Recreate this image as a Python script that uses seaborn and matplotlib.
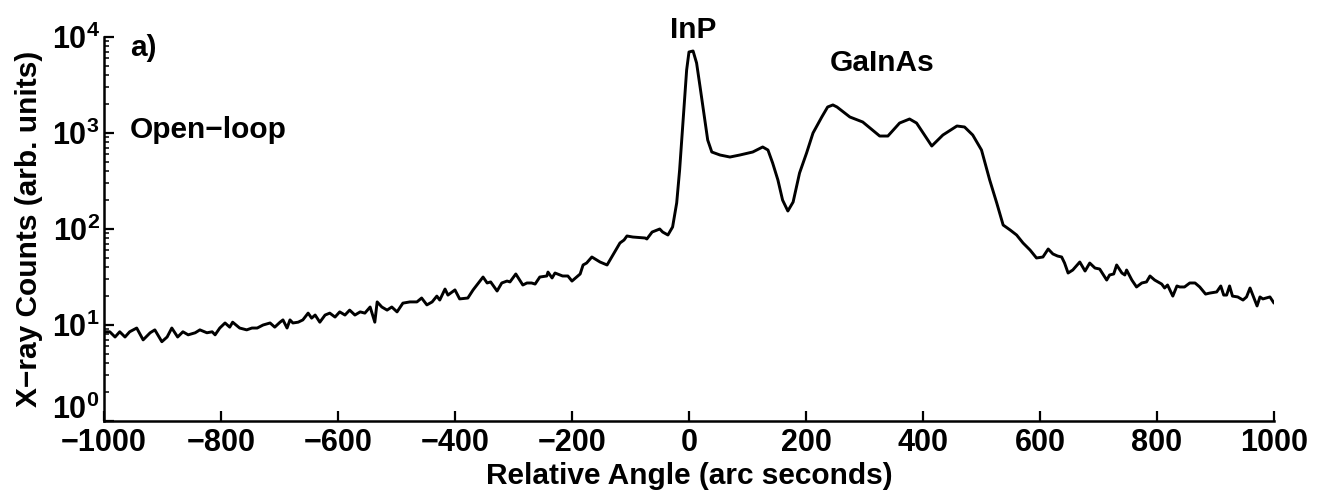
import matplotlib
matplotlib.use("Agg")
import matplotlib.pyplot as plt
import matplotlib.transforms as mtransforms
import seaborn as sns
import pandas as pd
from matplotlib.ticker import LogLocator, NullFormatter

# Relative angle (arc seconds)
angle = [
    -1000, -990, -981, -973, -964, -956, -944, -933, -921, -913, -901, -892, -884, -874, -865, -856,
    -844, -836, -824, -815, -810, -802, -793, -785, -780, -768, -756, -747, -738, -728,
    -716, -708, -699, -694, -687, -682, -677, -668, -660, -651, -645, -639, -631, -622, -614, -605,
    -597, -588, -580, -571, -562, -554, -545, -537, -533, -525, -516, -508, -499, -489, -477, -465,
    -457, -448, -439, -431, -426,
    -417, -412, -400, -392, -378, -369, -352, -345, -339, -328, -320, -311, -306, -296, -284, -277,
    -269, -263, -255, -243, -241, -234, -229, -216, -207, -200, -186, -181, -175, -166, -152, -140,
    -127, -118, -111, -106, -96, -75, -72, -63, -50, -45, -36, -28, -21, -16, -10, -4,
    0, 7, 13, 19, 27, 32, 39, 53, 70, 87, 109, 126, 135, 143, 152, 160, 169, 178, 189, 201,
    212, 227, 237, 246, 253, 275, 297, 326, 340, 360, 377, 389, 415, 434, 458, 471, 485, 500,
    514, 526, 537, 549, 560, 571, 583, 594, 605, 614, 622, 630, 637, 642, 648, 656, 668, 677,
    685, 694, 702, 714, 719, 726, 731, 740, 745, 748, 757, 765, 774, 782, 788, 796, 808, 813,
    818, 827, 834, 839, 847, 856, 865, 873, 883, 890, 902, 909, 914, 919, 924, 929, 938, 947,
    953, 959, 965, 971, 976, 981, 993, 1000,
]

# X-ray counts (arb. units)
counts = [
    8.5, 8.5, 7.5, 8.5, 7.5, 8.5, 9.3, 7.0, 8.3, 8.9, 6.7, 7.5, 9.3, 7.5, 8.5, 7.9,
    8.3, 8.9, 8.3, 8.5, 7.9, 9.3, 10.5, 9.5, 10.7, 9.3, 8.9, 9.3, 9.3, 10.0,
    10.5, 9.5, 10.7, 11.3, 9.3, 11.3, 10.5, 10.7, 11.3, 13.3, 11.8, 12.7, 10.7, 12.7, 13.3, 12.1,
    13.7, 12.7, 14.3, 12.7, 13.7, 13.3, 15.4, 10.7, 17.4, 15.4, 14.3, 15.4, 13.7, 16.9, 17.4, 17.4,
    19.1, 16.2, 17.4, 20.0, 18.2,
    23.7, 20.5, 23.2, 18.7, 19.1, 23.2, 31.6, 27.4, 28.1, 22.6, 27.4, 28.7, 28.1, 34.0, 26.1, 27.4,
    27.4, 26.7, 31.6, 32.4, 35.6, 30.9, 34.8, 32.4, 32.4, 28.7, 34.0, 42.2, 44.2, 51.1, 45.3, 42.2,
    57.6, 71.5, 76.8, 84.6, 82.5, 80.6, 78.7, 93.0, 100, 93, 86.6, 105, 187, 412, 1365, 4530,
    6980, 7150, 5360, 3015, 1365, 845, 634, 590, 562, 590, 634, 715, 665, 487, 324, 200, 154, 191, 383, 619,
    1000, 1468, 1866, 1960, 1866, 1468, 1302, 930, 930, 1270, 1399, 1270, 732, 953, 1183, 1155, 953, 665,
    324, 187, 110, 97.6, 86.6, 71.5, 60.4, 49.9, 51.1, 61.9, 55, 52.3, 51.1, 44.2, 34.8, 37.4, 45.3, 36.5,
    44.2, 39.2, 38.3, 29.4, 33.2, 34.0, 42.2, 34.8, 33.2, 37.4, 29.4, 24.9, 27.4, 28.1, 32.4, 29.4, 26.7, 24.3,
    26.1, 20.0, 25.5, 24.9, 24.9, 27.4, 27.4, 24.9, 21.0, 21.5, 22.1, 25.5, 20.5, 20.5, 25.5, 20.0, 19.6, 18.2,
    19.6, 24.3, 19.6, 15.8, 19.6, 18.7, 19.6, 16.9,
]

x_ticks = [-1000, -800, -600, -400, -200, 0, 200, 400, 600, 800, 1000]
annotations = ["a)", "Open\u2212loop", "InP", "GaInAs"]

sns.set_theme(style="ticks")
plt.rcParams["font.family"] = ["Liberation Sans", "DejaVu Sans"]
plt.rcParams["font.weight"] = "bold"
plt.rcParams["axes.labelweight"] = "bold"
plt.rcParams["mathtext.fontset"] = "custom"
plt.rcParams["mathtext.rm"] = "Liberation Sans:bold"
plt.rcParams["mathtext.it"] = "Liberation Sans:bold"
plt.rcParams["mathtext.bf"] = "Liberation Sans:bold"

FS_TICK = 22
FS_LABEL = 21.5
FS_ANN = 21.5

df = pd.DataFrame({"angle": angle, "counts": counts})

fig = plt.figure(figsize=(13.19, 4.98), dpi=100)
ax = fig.add_axes([0.0788, 0.1546, 0.8871, 0.7711])

sns.lineplot(data=df, x="angle", y="counts", ax=ax, color="black", linewidth=2.1,
             estimator=None, sort=False)

ax.set_yscale("log")
ax.set_xlim(-1000, 1000)
ax.set_ylim(1, 1e4)
ax.set_xticks(x_ticks)
ax.yaxis.set_major_locator(LogLocator(base=10, numticks=10))
ax.yaxis.set_minor_locator(LogLocator(base=10, subs=range(2, 10), numticks=100))
ax.yaxis.set_minor_formatter(NullFormatter())

ax.tick_params(axis="both", which="major", direction="in", length=7, width=1.6,
               labelsize=FS_TICK, colors="black")
ax.tick_params(axis="y", which="major", pad=3)
ax.tick_params(axis="x", which="major", pad=5)
ax.tick_params(axis="y", which="minor", direction="in", length=3.5, width=1.3)
ax.tick_params(axis="x", which="minor", bottom=False)

sns.despine(ax=ax)
for s in ["left", "bottom"]:
    ax.spines[s].set_linewidth(1.8)
    ax.spines[s].set_color("black")

ax.set_xlabel("Relative Angle (arc seconds)", fontsize=FS_LABEL, color="black", labelpad=3)
ax.set_ylabel("X\u2212ray Counts (arb. units)", fontsize=FS_LABEL, color="black", labelpad=6)

ax.text(0.022, 0.972, annotations[0], transform=ax.transAxes, fontsize=FS_ANN,
        ha="left", va="center", color="black")
ax.text(0.022, 0.758, annotations[1], transform=ax.transAxes, fontsize=FS_ANN,
        ha="left", va="center", color="black")
ax.text(0.504, 1.017, annotations[2], transform=ax.transAxes, fontsize=FS_ANN,
        ha="center", va="center", color="black", clip_on=False)
ax.text(0.665, 0.932, annotations[3], transform=ax.transAxes, fontsize=FS_ANN,
        ha="center", va="center", color="black")

# raise the lowest y tick label so it clears the x tick labels (as in the reference)
fig.canvas.draw()
shift = mtransforms.ScaledTranslation(0, 10 / 72, fig.dpi_scale_trans)
for tick in ax.yaxis.get_major_ticks():
    if abs(tick.get_loc() - 1.0) < 1e-9:
        tick.label1.set_transform(tick.label1.get_transform() + shift)

fig.savefig("out.png", dpi=100, facecolor="white")
